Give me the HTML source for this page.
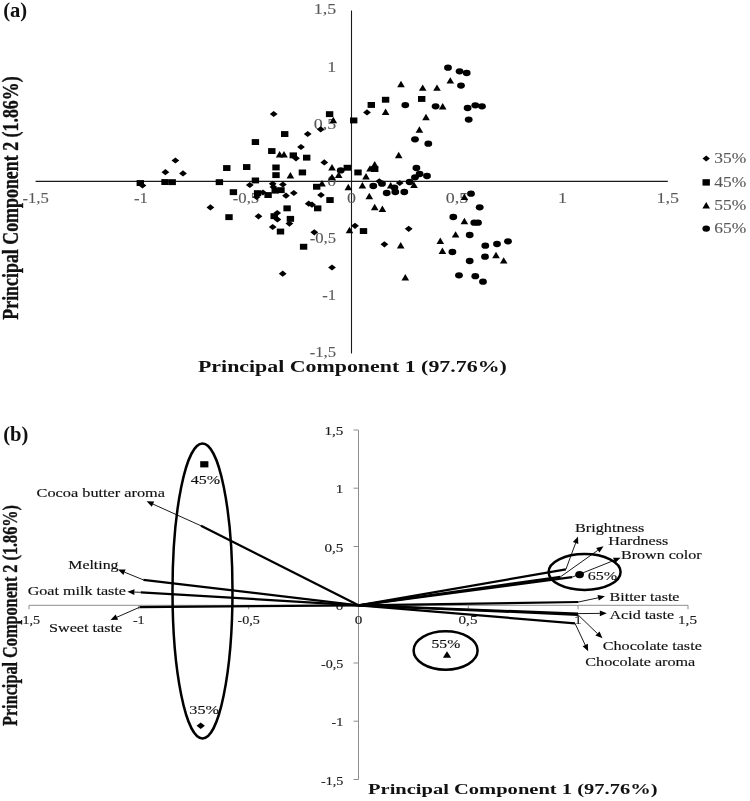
<!DOCTYPE html>
<html><head><meta charset="utf-8"><title>PCA</title>
<style>
html,body{margin:0;padding:0;background:#fff;}
body{width:750px;height:801px;overflow:hidden;}
svg{display:block;}
text{font-family:"Liberation Serif","Times New Roman",serif;}
.b{font-weight:bold;fill:#111;}
.ta{fill:#585858;font-size:13.8px;stroke:#585858;stroke-width:0.1px;}
.tb{fill:#1c1c1c;font-size:13px;stroke:#1c1c1c;stroke-width:0.15px;}
.lb{fill:#111;font-size:12.3px;stroke:#111;stroke-width:0.15px;}
</style></head><body>
<svg width="750" height="801" viewBox="0 0 750 801">
<rect width="750" height="801" fill="#fff"/>

<text class="b" x="3.2" y="16.7" font-size="20.6">(a)</text>
<g stroke="#1a1a1a" stroke-width="1.1" fill="none"><path d="M35.6 181.4H667.8"/><path d="M351.5 10.5V353.5"/></g>
<text class="ta" transform="translate(35.6 202.5) scale(1.209 1)" text-anchor="middle">-1,5</text>
<text class="ta" transform="translate(141 202.5) scale(1.209 1)" text-anchor="middle">-1</text>
<text class="ta" transform="translate(246 202.5) scale(1.209 1)" text-anchor="middle">-0,5</text>
<text class="ta" transform="translate(351.5 202.5) scale(1.3 1)" text-anchor="middle">0</text>
<text class="ta" transform="translate(457 202.5) scale(1.3 1)" text-anchor="middle">0,5</text>
<text class="ta" transform="translate(562.5 202.5) scale(1.3 1)" text-anchor="middle">1</text>
<text class="ta" transform="translate(667.8 202.5) scale(1.3 1)" text-anchor="middle">1,5</text>
<text class="ta" transform="translate(336.1 14.2) scale(1.3 1)" text-anchor="end">1,5</text>
<text class="ta" transform="translate(336.1 71.5) scale(1.3 1)" text-anchor="end">1</text>
<text class="ta" transform="translate(336.1 129) scale(1.3 1)" text-anchor="end">0,5</text>
<text class="ta" transform="translate(336.1 186.2) scale(1.3 1)" text-anchor="end">0</text>
<text class="ta" transform="translate(336.1 242.7) scale(1.209 1)" text-anchor="end">-0,5</text>
<text class="ta" transform="translate(336.1 299.6) scale(1.209 1)" text-anchor="end">-1</text>
<text class="ta" transform="translate(336.1 357.3) scale(1.209 1)" text-anchor="end">-1,5</text>
<g fill="#000">
<rect x="136.6" y="180.1" width="7.4" height="5.9"/>
<rect x="161.3" y="179.1" width="7.4" height="5.9"/>
<rect x="168.5" y="179.2" width="7.4" height="5.9"/>
<rect x="215.7" y="179.2" width="7.4" height="5.9"/>
<rect x="223.1" y="165.1" width="7.4" height="5.9"/>
<rect x="243.0" y="164.1" width="7.4" height="5.9"/>
<rect x="251.7" y="139.1" width="7.4" height="5.9"/>
<rect x="268.1" y="148.1" width="7.4" height="5.9"/>
<rect x="272.3" y="164.5" width="7.4" height="5.9"/>
<rect x="272.3" y="172.2" width="7.4" height="5.9"/>
<rect x="251.7" y="177.5" width="7.4" height="5.9"/>
<rect x="229.7" y="189.2" width="7.4" height="5.9"/>
<rect x="225.3" y="214.2" width="7.4" height="5.9"/>
<rect x="253.9" y="190.2" width="7.4" height="5.9"/>
<rect x="264.4" y="192.1" width="7.4" height="5.9"/>
<rect x="271.5" y="187.7" width="7.4" height="5.9"/>
<rect x="277.3" y="187.2" width="7.4" height="5.9"/>
<rect x="281.0" y="131.1" width="7.4" height="5.9"/>
<rect x="325.9" y="111.2" width="7.4" height="5.9"/>
<rect x="289.6" y="152.4" width="7.4" height="5.9"/>
<rect x="303.0" y="154.7" width="7.4" height="5.9"/>
<rect x="298.7" y="169.5" width="7.4" height="5.9"/>
<rect x="313.0" y="183.8" width="7.4" height="5.9"/>
<rect x="326.3" y="197.1" width="7.4" height="5.9"/>
<rect x="314.0" y="205.4" width="7.4" height="5.9"/>
<rect x="283.4" y="205.4" width="7.4" height="5.9"/>
<rect x="286.7" y="215.9" width="7.4" height="5.9"/>
<rect x="270.5" y="213.2" width="7.4" height="5.9"/>
<rect x="276.8" y="228.6" width="7.4" height="5.9"/>
<rect x="299.9" y="243.8" width="7.4" height="5.9"/>
<rect x="350.0" y="117.5" width="7.4" height="5.9"/>
<rect x="367.6" y="102.0" width="7.4" height="5.9"/>
<rect x="381.9" y="96.8" width="7.4" height="5.9"/>
<rect x="418.0" y="96.0" width="7.4" height="5.9"/>
<rect x="343.6" y="164.8" width="7.4" height="5.9"/>
<rect x="354.3" y="169.5" width="7.4" height="5.9"/>
<rect x="371.0" y="166.1" width="7.4" height="5.9"/>
<rect x="359.8" y="228.1" width="7.4" height="5.9"/>
<path d="M138.6 185.5L142.5 182.4L146.4 185.5L142.5 188.6Z"/>
<path d="M171.5 160.5L175.4 157.4L179.3 160.5L175.4 163.6Z"/>
<path d="M161.5 172.2L165.4 169.1L169.3 172.2L165.4 175.3Z"/>
<path d="M179.1 173.4L183.0 170.3L186.9 173.4L183.0 176.5Z"/>
<path d="M206.5 207.4L210.4 204.3L214.3 207.4L210.4 210.5Z"/>
<path d="M245.9 185.0L249.8 181.9L253.7 185.0L249.8 188.1Z"/>
<path d="M269.8 114.0L273.7 110.9L277.6 114.0L273.7 117.1Z"/>
<path d="M303.8 134.0L307.7 130.9L311.6 134.0L307.7 137.1Z"/>
<path d="M316.8 129.3L320.7 126.2L324.6 129.3L320.7 132.4Z"/>
<path d="M297.1 147.0L301.0 143.9L304.9 147.0L301.0 150.1Z"/>
<path d="M292.1 158.3L296.0 155.2L299.9 158.3L296.0 161.4Z"/>
<path d="M320.4 162.4L324.3 159.3L328.2 162.4L324.3 165.5Z"/>
<path d="M268.8 183.8L272.7 180.7L276.6 183.8L272.7 186.9Z"/>
<path d="M279.0 184.5L282.9 181.4L286.8 184.5L282.9 187.6Z"/>
<path d="M289.9 193.0L293.8 189.9L297.7 193.0L293.8 196.1Z"/>
<path d="M282.1 195.7L286.0 192.6L289.9 195.7L286.0 198.8Z"/>
<path d="M317.1 195.0L321.0 191.9L324.9 195.0L321.0 198.1Z"/>
<path d="M259.1 192.5L263.0 189.4L266.9 192.5L263.0 195.6Z"/>
<path d="M252.7 197.0L256.6 193.9L260.5 197.0L256.6 200.1Z"/>
<path d="M269.5 187.0L273.4 183.9L277.3 187.0L273.4 190.1Z"/>
<path d="M304.8 203.7L308.7 200.6L312.6 203.7L308.7 206.8Z"/>
<path d="M308.1 204.7L312.0 201.6L315.9 204.7L312.0 207.8Z"/>
<path d="M254.6 216.3L258.5 213.2L262.4 216.3L258.5 219.4Z"/>
<path d="M273.3 213.0L277.2 209.9L281.1 213.0L277.2 216.1Z"/>
<path d="M273.5 219.4L277.4 216.3L281.3 219.4L277.4 222.5Z"/>
<path d="M268.8 227.0L272.7 223.9L276.6 227.0L272.7 230.1Z"/>
<path d="M285.5 223.6L289.4 220.5L293.3 223.6L289.4 226.7Z"/>
<path d="M310.4 232.3L314.3 229.2L318.2 232.3L314.3 235.4Z"/>
<path d="M278.8 273.7L282.7 270.6L286.6 273.7L282.7 276.8Z"/>
<path d="M328.1 267.5L332.0 264.4L335.9 267.5L332.0 270.6Z"/>
<path d="M363.1 112.4L367.0 109.3L370.9 112.4L367.0 115.5Z"/>
<path d="M395.8 183.0L399.7 179.9L403.6 183.0L399.7 186.1Z"/>
<path d="M351.1 225.8L355.0 222.7L358.9 225.8L355.0 228.9Z"/>
<path d="M404.8 228.8L408.7 225.7L412.6 228.8L408.7 231.9Z"/>
<path d="M380.5 244.3L384.4 241.2L388.3 244.3L384.4 247.4Z"/>
<path d="M375.4 181.3L379.3 178.2L383.2 181.3L379.3 184.4Z"/>
<path d="M275.8 157.5L279.6 151.1L283.4 157.5Z"/>
<path d="M280.2 157.5L284.0 151.1L287.8 157.5Z"/>
<path d="M329.5 123.2L333.3 116.8L337.1 123.2Z"/>
<path d="M286.6 178.5L290.4 172.1L294.2 178.5Z"/>
<path d="M328.2 170.4L332.0 164.0L335.8 170.4Z"/>
<path d="M318.2 186.5L322.0 180.1L325.8 186.5Z"/>
<path d="M328.2 180.2L332.0 173.8L335.8 180.2Z"/>
<path d="M334.9 177.9L338.7 171.5L342.5 177.9Z"/>
<path d="M397.2 87.2L401.0 80.8L404.8 87.2Z"/>
<path d="M381.8 114.9L385.6 108.5L389.4 114.9Z"/>
<path d="M415.6 132.7L419.4 126.3L423.2 132.7Z"/>
<path d="M418.9 90.8L422.7 84.4L426.5 90.8Z"/>
<path d="M433.2 90.8L437.0 84.4L440.8 90.8Z"/>
<path d="M446.5 83.6L450.3 77.2L454.1 83.6Z"/>
<path d="M438.9 109.5L442.7 103.1L446.5 109.5Z"/>
<path d="M422.2 120.2L426.0 113.8L429.8 120.2Z"/>
<path d="M366.2 171.6L370.0 165.2L373.8 171.6Z"/>
<path d="M370.9 167.5L374.7 161.1L378.5 167.5Z"/>
<path d="M362.2 179.5L366.0 173.1L369.8 179.5Z"/>
<path d="M394.9 158.2L398.7 151.8L402.5 158.2Z"/>
<path d="M344.5 190.2L348.3 183.8L352.1 190.2Z"/>
<path d="M358.6 188.5L362.4 182.1L366.2 188.5Z"/>
<path d="M365.5 199.2L369.3 192.8L373.1 199.2Z"/>
<path d="M370.9 210.2L374.7 203.8L378.5 210.2Z"/>
<path d="M378.6 211.9L382.4 205.5L386.2 211.9Z"/>
<path d="M386.9 188.5L390.7 182.1L394.5 188.5Z"/>
<path d="M410.2 187.9L414.0 181.5L417.8 187.9Z"/>
<path d="M345.7 233.2L349.5 226.8L353.3 233.2Z"/>
<path d="M396.9 248.5L400.7 242.1L404.5 248.5Z"/>
<path d="M401.5 280.5L405.3 274.1L409.1 280.5Z"/>
<path d="M460.6 199.9L464.4 193.5L468.2 199.9Z"/>
<path d="M460.6 224.2L464.4 217.8L468.2 224.2Z"/>
<path d="M451.8 237.6L455.6 231.2L459.4 237.6Z"/>
<path d="M436.5 243.9L440.3 237.5L444.1 243.9Z"/>
<path d="M438.6 253.9L442.4 247.5L446.2 253.9Z"/>
<path d="M492.2 258.2L496.0 251.8L499.8 258.2Z"/>
<path d="M499.9 263.6L503.7 257.2L507.5 263.6Z"/>
<ellipse cx="448.0" cy="67.7" rx="3.9" ry="3.15"/>
<ellipse cx="459.6" cy="71.3" rx="3.9" ry="3.15"/>
<ellipse cx="466.7" cy="73.0" rx="3.9" ry="3.15"/>
<ellipse cx="461.0" cy="85.6" rx="3.9" ry="3.15"/>
<ellipse cx="405.3" cy="105.1" rx="3.9" ry="3.15"/>
<ellipse cx="435.6" cy="106.3" rx="3.9" ry="3.15"/>
<ellipse cx="467.6" cy="108.0" rx="3.9" ry="3.15"/>
<ellipse cx="475.3" cy="105.3" rx="3.9" ry="3.15"/>
<ellipse cx="482.0" cy="106.3" rx="3.9" ry="3.15"/>
<ellipse cx="468.7" cy="119.6" rx="3.9" ry="3.15"/>
<ellipse cx="415.0" cy="139.3" rx="3.9" ry="3.15"/>
<ellipse cx="428.3" cy="143.7" rx="3.9" ry="3.15"/>
<ellipse cx="340.7" cy="170.4" rx="3.9" ry="3.15"/>
<ellipse cx="416.4" cy="168.0" rx="3.9" ry="3.15"/>
<ellipse cx="419.6" cy="174.0" rx="3.9" ry="3.15"/>
<ellipse cx="415.0" cy="177.3" rx="3.9" ry="3.15"/>
<ellipse cx="427.0" cy="176.0" rx="3.9" ry="3.15"/>
<ellipse cx="409.6" cy="182.0" rx="3.9" ry="3.15"/>
<ellipse cx="373.3" cy="186.0" rx="3.9" ry="3.15"/>
<ellipse cx="382.0" cy="183.7" rx="3.9" ry="3.15"/>
<ellipse cx="394.4" cy="187.6" rx="3.9" ry="3.15"/>
<ellipse cx="386.7" cy="193.0" rx="3.9" ry="3.15"/>
<ellipse cx="395.3" cy="192.0" rx="3.9" ry="3.15"/>
<ellipse cx="404.3" cy="192.0" rx="3.9" ry="3.15"/>
<ellipse cx="471.0" cy="193.7" rx="3.9" ry="3.15"/>
<ellipse cx="479.7" cy="207.3" rx="3.9" ry="3.15"/>
<ellipse cx="453.3" cy="217.0" rx="3.9" ry="3.15"/>
<ellipse cx="474.3" cy="222.7" rx="3.9" ry="3.15"/>
<ellipse cx="478.0" cy="222.7" rx="3.9" ry="3.15"/>
<ellipse cx="469.7" cy="235.0" rx="3.9" ry="3.15"/>
<ellipse cx="508.0" cy="241.3" rx="3.9" ry="3.15"/>
<ellipse cx="497.0" cy="244.0" rx="3.9" ry="3.15"/>
<ellipse cx="485.3" cy="245.7" rx="3.9" ry="3.15"/>
<ellipse cx="452.4" cy="252.0" rx="3.9" ry="3.15"/>
<ellipse cx="485.0" cy="256.7" rx="3.9" ry="3.15"/>
<ellipse cx="469.7" cy="261.0" rx="3.9" ry="3.15"/>
<ellipse cx="459.0" cy="275.3" rx="3.9" ry="3.15"/>
<ellipse cx="475.3" cy="276.2" rx="3.9" ry="3.15"/>
<ellipse cx="483.0" cy="281.7" rx="3.9" ry="3.15"/>
<path d="M702.5 158.6L706.2 155.6L709.9 158.6L706.2 161.6Z"/>
<rect x="702.5" y="179.2" width="7.4" height="6.4"/>
<path d="M702.4 208.4L706.2 202.0L710.0 208.4Z"/>
<ellipse cx="706.2" cy="228.6" rx="3.8" ry="3.2"/>
</g>
<text class="ta" x="714.2" y="163.2" font-size="13.8" textLength="32" lengthAdjust="spacingAndGlyphs">35%</text>
<text class="ta" x="714.2" y="186.8" font-size="13.8" textLength="32" lengthAdjust="spacingAndGlyphs">45%</text>
<text class="ta" x="714.2" y="209.8" font-size="13.8" textLength="32" lengthAdjust="spacingAndGlyphs">55%</text>
<text class="ta" x="714.2" y="232.8" font-size="13.8" textLength="32" lengthAdjust="spacingAndGlyphs">65%</text>
<text class="b" x="198" y="371.7" font-size="16.2" textLength="308.8" lengthAdjust="spacingAndGlyphs">Principal Component 1 (97.76%)</text>
<text class="b" stroke="#111" stroke-width="0.35" transform="translate(17.9 319.7) rotate(-90)" font-size="22.2" textLength="243.3" lengthAdjust="spacingAndGlyphs">Principal Component 2 (1.86%)</text>
<text class="b" x="3.2" y="440.7" font-size="20.6">(b)</text>
<text class="b" x="368" y="794.4" font-size="15.3" textLength="289.5" lengthAdjust="spacingAndGlyphs">Principal Component 1 (97.76%)</text>
<text class="b" stroke="#111" stroke-width="0.35" transform="translate(16.8 726) rotate(-90)" font-size="21" textLength="221" lengthAdjust="spacingAndGlyphs">Principal Component 2 (1.86%)</text>
<path d="M29 605.3H688 M358.5 430V779.5 M29.0 605.3v4 M138.8 605.3v4 M248.7 605.3v4 M358.5 605.3v4 M468.3 605.3v4 M578.1 605.3v4 M688.0 605.3v4 M358.5 430.0h-5 M358.5 488.2h-5 M358.5 546.5h-5 M358.5 604.8h-5 M358.5 663.0h-5 M358.5 721.2h-5 M358.5 779.5h-5 " stroke="#8e8e8e" stroke-width="1" fill="none"/>
<text class="tb" transform="translate(29 623.8) scale(1.088 1)" text-anchor="middle">-1,5</text>
<text class="tb" transform="translate(138.8 623.8) scale(1.088 1)" text-anchor="middle">-1</text>
<text class="tb" transform="translate(248.7 623.8) scale(1.088 1)" text-anchor="middle">-0,5</text>
<text class="tb" transform="translate(358.5 623.8) scale(1.17 1)" text-anchor="middle">0</text>
<text class="tb" transform="translate(468 623.8) scale(1.17 1)" text-anchor="middle">0,5</text>
<text class="tb" transform="translate(578 623.8) scale(1.17 1)" text-anchor="middle">1</text>
<text class="tb" transform="translate(687.5 623.8) scale(1.17 1)" text-anchor="middle">1,5</text>
<text class="tb" transform="translate(343.4 435) scale(1.17 1)" text-anchor="end">1,5</text>
<text class="tb" transform="translate(343.4 493.3) scale(1.17 1)" text-anchor="end">1</text>
<text class="tb" transform="translate(343.4 551.5) scale(1.17 1)" text-anchor="end">0,5</text>
<text class="tb" transform="translate(343.4 609.8) scale(1.17 1)" text-anchor="end">0</text>
<text class="tb" transform="translate(343.4 668) scale(1.088 1)" text-anchor="end">-0,5</text>
<text class="tb" transform="translate(343.4 726.3) scale(1.088 1)" text-anchor="end">-1</text>
<text class="tb" transform="translate(343.4 784.5) scale(1.088 1)" text-anchor="end">-1,5</text>
<g fill="none" stroke="#000" stroke-width="2.5">
<ellipse cx="202.5" cy="591" rx="30" ry="147.5"/>
<ellipse cx="584.6" cy="572" rx="36" ry="18"/>
<ellipse cx="445.6" cy="650.5" rx="32" ry="19.2"/>
</g>
<g stroke="#000" stroke-width="2.2" stroke-linecap="butt">
<path d="M358.5 605.3L201 525.8"/>
<path d="M358.5 605.3L143.4 579.9"/>
<path d="M358.5 605.3L140.8 592.3"/>
<path d="M358.5 605.3L139.7 607.2"/>
<path d="M358.5 605.3L565.9 569.4"/>
<path d="M358.5 605.3L560.5 576.8"/>
<path d="M358.5 605.3L572 577.2"/>
<path d="M358.5 605.3L578.4 602"/>
<path d="M358.5 605.3L578 613.6"/>
<path d="M358.5 605.3L578 614.8"/>
<path d="M358.5 605.3L575 623.4"/>
</g>
<g stroke="#000" stroke-width="0.9" fill="#000">
<path d="M201 525.8L153.0 504.1"/>
<path stroke="none" d="M146.6 501.2L154.2 501.4L151.8 506.7Z"/>
<path d="M143.4 579.9L124.5 572.2"/>
<path stroke="none" d="M118.0 569.6L125.6 569.5L123.4 574.9Z"/>
<path d="M140.8 592.3L134.4 592.1"/>
<path stroke="none" d="M127.4 591.8L134.5 589.2L134.3 595.0Z"/>
<path d="M139.7 607.2L116.9 617.2"/>
<path stroke="none" d="M110.5 620.0L115.7 614.5L118.1 619.8Z"/>
<path d="M565.9 569.4L575.6 543.1"/>
<path stroke="none" d="M578.0 536.5L578.3 544.1L572.9 542.1Z"/>
<path d="M560.5 576.8L597.8 550.3"/>
<path stroke="none" d="M603.5 546.2L599.5 552.6L596.1 547.9Z"/>
<path d="M572 577.2L614.1 560.4"/>
<path stroke="none" d="M620.6 557.8L615.2 563.1L613.0 557.7Z"/>
<path d="M578.4 602L598.2 597.8"/>
<path stroke="none" d="M605.0 596.3L598.8 600.6L597.5 594.9Z"/>
<path d="M578 613.6L599.8 613.4"/>
<path stroke="none" d="M606.8 613.3L599.8 616.3L599.8 610.5Z"/>
<path d="M578 614.8L597.4 633.5"/>
<path stroke="none" d="M602.5 638.3L595.4 635.5L599.5 631.4Z"/>
<path d="M575 623.4L585.2 645.0"/>
<path stroke="none" d="M588.2 651.3L582.6 646.2L587.8 643.7Z"/>
</g>
<g fill="#000">
<rect x="200.2" y="461.2" width="8.2" height="6.2"/>
<path d="M196.5 725.7L200.7 722.5L204.9 725.7L200.7 728.9Z"/>
<path d="M442.9 657.8L447.0 651.2L451.1 657.8Z"/>
<ellipse cx="579.6" cy="574.6" rx="4.4" ry="3.7"/>
</g>
<text class="lb" x="190.7" y="484" textLength="29.3" lengthAdjust="spacingAndGlyphs">45%</text>
<text class="lb" x="189.3" y="714" textLength="29.7" lengthAdjust="spacingAndGlyphs">35%</text>
<text class="lb" x="431.5" y="648" textLength="28.8" lengthAdjust="spacingAndGlyphs">55%</text>
<text class="lb" x="587.8" y="579.6" textLength="29.4" lengthAdjust="spacingAndGlyphs">65%</text>
<text class="lb" x="36.6" y="496.5" textLength="128.4" lengthAdjust="spacingAndGlyphs">Cocoa butter aroma</text>
<text class="lb" x="68.3" y="569.4" textLength="50.2" lengthAdjust="spacingAndGlyphs">Melting</text>
<text class="lb" x="27.7" y="595" textLength="98.3" lengthAdjust="spacingAndGlyphs">Goat milk taste</text>
<text class="lb" x="49" y="632.2" textLength="73.2" lengthAdjust="spacingAndGlyphs">Sweet taste</text>
<text class="lb" x="575" y="532.3" textLength="69.3" lengthAdjust="spacingAndGlyphs">Brightness</text>
<text class="lb" x="608.3" y="545" textLength="60" lengthAdjust="spacingAndGlyphs">Hardness</text>
<text class="lb" x="621" y="559.3" textLength="80.7" lengthAdjust="spacingAndGlyphs">Brown color</text>
<text class="lb" x="609.5" y="600.6" textLength="70" lengthAdjust="spacingAndGlyphs">Bitter taste</text>
<text class="lb" x="609.5" y="619.3" textLength="64.5" lengthAdjust="spacingAndGlyphs">Acid taste</text>
<text class="lb" x="602.8" y="650.2" textLength="99" lengthAdjust="spacingAndGlyphs">Chocolate taste</text>
<text class="lb" x="585.3" y="666.3" textLength="110" lengthAdjust="spacingAndGlyphs">Chocolate aroma</text>
</svg></body></html>
